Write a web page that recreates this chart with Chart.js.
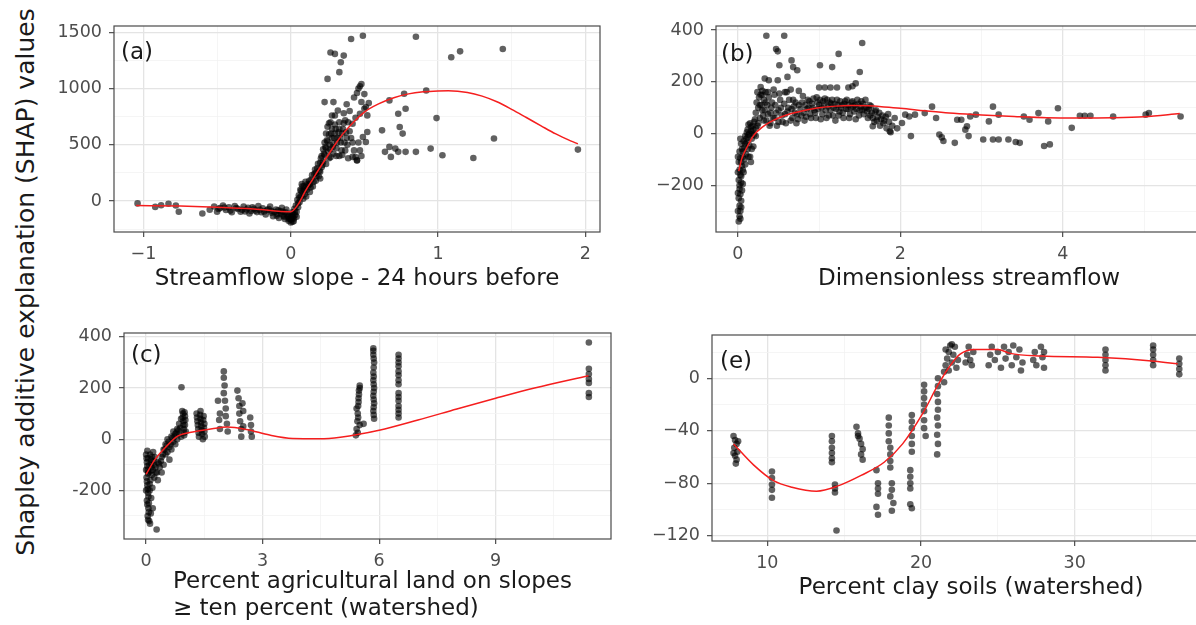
<!DOCTYPE html>
<html>
<head>
<meta charset="utf-8">
<script src="https://cdn.jsdelivr.net/npm/chart.js@4.4.0/dist/chart.umd.min.js"></script>
<style>
  html, body { margin: 0; padding: 0; background: #fff; }
  body { width: 1196px; height: 625px; overflow: hidden; position: relative; font-family: "DejaVu Sans", sans-serif; }
  canvas { position: absolute; }
  #ytitle {
    position: absolute; left: 25px; top: 282px;
    transform: translate(-50%, -50%) rotate(-90deg);
    white-space: nowrap; font-size: 25px; color: #1a1a1a;
  }
</style>
</head>
<body>
<div id="ytitle">Shapley additive explanation (SHAP) values</div>
<canvas id="pa" width="615" height="300" style="left:0;top:0;width:615px;height:300px"></canvas>
<canvas id="pb" width="640" height="300" style="left:600px;top:0;width:640px;height:300px"></canvas>
<canvas id="pc" width="630" height="320" style="left:0;top:305px;width:630px;height:320px"></canvas>
<canvas id="pe" width="640" height="320" style="left:598px;top:305px;width:640px;height:320px"></canvas>
<script>
// tick values (major ones get labels, minor ones only a light grid line)
const aXMajor = [-1, 0, 1, 2];          const aXMinor = [-0.5, 0.5, 1.5];
const aYMajor = [0, 500, 1000, 1500];   const aYMinor = [-250, 250, 750, 1250];
const bXMajor = [0, 2, 4];              const bXMinor = [1, 3, 5];
const bYMajor = [-200, 0, 200, 400];    const bYMinor = [-300, -100, 100, 300];
const cXMajor = [0, 3, 6, 9];           const cXMinor = [1.5, 4.5, 7.5, 10.5];
const cYMajor = [-200, 0, 200, 400];    const cYMinor = [-300, -100, 100, 300];
const eXMajor = [10, 20, 30];           const eXMinor = [15, 25, 35];
const eYMajor = [-120, -80, -40, 0];    const eYMinor = [-100, -60, -20, 20];

// (a) streamflow slope 24 h before
const aPoints = [
  [-1.04,-21],[-0.92,-52],[-0.88,-38],[-0.83,-24],[-0.78,-40],[-0.76,-95],[-0.6,-110],[-0.55,-78],
  [-0.52,-48],[-0.5,-95],[-0.48,-62],[-0.46,-40],[-0.44,-80],[-0.42,-55],[-0.4,-100],[-0.38,-45],
  [-0.36,-70],[-0.34,-95],[-0.32,-50],[-0.3,-75],[-0.28,-110],[-0.26,-55],[-0.24,-85],[-0.22,-45],
  [-0.2,-100],[-0.19,-65],[-0.17,-120],[-0.16,-80],[-0.14,-50],[-0.13,-105],[-0.12,-135],[-0.1,-75],
  [-0.09,-115],[-0.08,-150],[-0.07,-90],[-0.06,-60],[-0.05,-130],[-0.04,-160],[-0.035,-100],[-0.03,-75],
  [-0.02,-140],[-0.015,-175],[-0.01,-115],[-0.005,-155],[0,-190],[0,-135],[0.005,-165],[0.01,-100],
  [0.015,-145],[0.02,-180],[0.025,-70],[0.03,-125],[0.035,-40],[0.04,-95],[0.045,10],[0.05,-55],
  [0.055,50],[0.06,-10],[0.065,100],[0.07,40],[0.075,150],[0.08,80],[0.085,20],[0.09,130],
  [0.095,60],[0.1,170],[0.11,100],[0.12,140],[0.13,80],[0.14,190],[0.15,130],[0.16,240],
  [0.17,180],[0.18,290],[0.19,220],[0.2,340],[0.2,260],[0.21,400],[0.21,300],[0.22,460],
  [0.22,350],[0.23,520],[0.23,410],[0.24,600],[0.24,470],[0.25,660],[0.25,530],[0.26,380],
  [0.26,590],[0.27,700],[0.27,460],[0.28,560],[0.28,640],[0.29,420],[0.29,510],[0.3,600],
  [0.3,680],[0.31,470],[0.32,560],[0.33,640],[0.33,400],[0.34,520],[0.35,600],[0.36,690],
  [0.37,450],[0.38,560],[0.39,380],[0.4,620],[0.42,520],[0.44,390],[0.45,360],[0.47,450],
  [-0.49,-70],[-0.45,-58],[-0.41,-85],[-0.37,-62],[-0.33,-78],[-0.31,-92],[-0.29,-60],[-0.27,-88],
  [-0.25,-70],[-0.23,-98],[-0.21,-78],[-0.18,-92],[-0.15,-72],[-0.13,-88],[-0.11,-98],[-0.095,-130],
  [-0.085,-82],[-0.065,-112],[-0.055,-95],[-0.045,-140],[-0.025,-120],[-0.012,-160],[0,-160],[0.008,-140],
  [0.012,-185],[0.018,-120],[0.022,-155],[0.028,-95],[0.04,-140],[0.05,-20],[0.06,30],[0.07,90],
  [0.08,130],[0.09,95],[0.1,120],[0.105,40],[0.115,150],[0.125,180],[0.135,120],[0.145,230],
  [0.155,170],[0.165,280],[0.175,220],[0.185,330],[0.195,270],[0.205,380],[0.215,320],[0.225,420],
  [0.235,480],[0.245,540],[0.255,440],[0.265,500],[0.275,600],[0.285,480],[0.295,560],[0.305,640],
  [0.315,520],[0.325,610],[0.335,560],[0.345,450],[0.355,640],[0.365,520],[0.375,610],[0.385,500],
  [0.41,560],[0.43,450],[0.46,520],[0.48,400],[0.35,410],[0.31,400],[0.27,390],[0.24,330],
  [0.2,200],[0.17,250],[0.13,150],[0.3,760],[0.33,700],[0.36,780],[0.39,700],
  [0.41,1440],[0.49,1469],[0.85,1460],[0.27,1320],[0.3,1307],[0.36,1292],[0.34,1233],[0.33,1145],
  [0.25,1085],[1.09,1277],[1.15,1330],[1.44,1351],[0.92,982],[0.77,953],[0.67,894],[0.46,1000],
  [0.48,1040],[0.45,960],[0.43,920],[0.48,880],[0.23,879],[0.29,879],[0.32,805],[0.37,717],
  [0.42,687],[0.51,835],[0.47,776],[0.52,761],[0.78,820],[0.73,776],[0.99,737],[0.62,628],
  [0.74,658],[0.76,599],[0.52,614],[0.49,569],[0.51,525],[1.38,555],[0.67,481],[0.71,466],
  [0.73,437],[0.78,437],[0.85,437],[0.64,437],[0.68,392],[0.95,466],[1.03,407],[1.24,383],
  [1.95,457],[0.42,392],[0.45,363],[0.5,820],[0.44,740],[0.4,800],[0.38,860],[0.26,690],
  [0.28,760],[0.53,870],[0.5,950],[0.47,1020]
];
const aCurve = [
  [-1.05,-40],[-0.75,-45],[-0.5,-55],[-0.25,-70],[0,-95],[0.05,-30],[0.1,90],[0.15,195],
  [0.2,300],[0.25,400],[0.3,500],[0.35,590],[0.4,665],[0.5,790],[0.6,865],[0.7,918],
  [0.8,952],[0.9,970],[1.0,978],[1.07,980],[1.2,965],[1.3,932],[1.4,882],[1.5,815],
  [1.6,742],[1.7,668],[1.8,596],[1.9,535],[1.95,508]
];

// (b) dimensionless streamflow
const bPoints = [
  [0.01,-340],[0.02,-320],[0.03,-300],[0.02,-280],[0.04,-260],[0.01,-250],[0.03,-235],[0.05,-220],
  [0.02,-200],[0.06,-195],[0.01,-180],[0.04,-165],[0.07,-150],[0.02,-140],[0.05,-125],[0.09,-120],
  [0.01,-110],[0.03,-95],[0.06,-90],[0.1,-80],[0.02,-70],[0.05,-60],[0.08,-55],[0.12,-60],
  [0.04,-40],[0.07,-30],[0.11,-35],[0.15,-90],[0.14,-45],[0.09,-10],[0.13,-5],[0.17,-20],
  [0.19,-50],[0.12,15],[0.16,10],[0.2,-5],[0.18,30],[0.22,20],[0.15,40],[0.21,55],
  [0,-300],[0.03,-330],[0.04,-285],[0,-230],[0.02,-215],[0.04,-190],[0.03,-160],[0,-150],
  [0.06,-140],[0.04,-110],[0.08,-100],[0,-90],[0.06,-70],[0.09,-40],[0.03,-20],[0.1,-20],
  [0.12,-15],[0.14,0],[0.16,25],[0.18,0],[0.11,5],[0.13,35],[0.2,45],[0.19,15],
  [0.22,-10],[0.24,30],[0.17,-60],[0.13,-90],[0.16,-110],
  [0.22,80],[0.23,120],[0.24,160],[0.25,100],[0.26,140],[0.27,60],[0.28,180],[0.29,110],
  [0.3,150],[0.31,70],[0.32,130],[0.33,90],[0.34,160],[0.35,50],[0.36,110],[0.38,140],
  [0.4,40],[0.4,80],[0.42,120],[0.45,60],[0.45,150],[0.48,30],[0.5,90],[0.52,130],
  [0.55,45],[0.58,75],[0.6,160],[0.62,100],[0.65,50],[0.68,130],[0.7,80],[0.72,40],
  [0.75,110],[0.78,70],[0.8,145],[0.82,50],[0.85,95],[0.88,125],[0.9,60],[0.92,100],
  [0.95,80],[0.97,140],[1.0,110],[1.02,55],[1.05,125],[1.08,90],[1.1,130],[1.12,70],
  [1.15,115],[1.18,100],[1.2,50],[1.22,130],[1.25,85],[1.28,110],[1.3,60],[1.32,125],
  [1.35,95],[1.38,75],[1.4,120],[1.42,105],[1.45,55],[1.48,115],[1.5,90],[1.52,125],
  [1.55,75],[1.58,100],[1.6,60],[1.62,110],[1.65,80],[1.68,45],[1.7,90],[1.72,65],
  [1.75,30],[1.78,70],[1.8,50],[1.83,20],[1.85,75],[1.88,5],
  [0.25,40],[0.27,110],[0.3,90],[0.32,50],[0.34,120],[0.37,75],[0.39,30],[0.41,100],
  [0.43,60],[0.46,110],[0.47,80],[0.5,45],[0.53,100],[0.54,70],[0.57,115],[0.59,40],
  [0.61,85],[0.63,130],[0.66,95],[0.67,60],[0.69,105],[0.71,120],[0.73,75],[0.74,55],
  [0.77,95],[0.79,120],[0.81,80],[0.83,110],[0.84,65],[0.86,130],[0.87,100],[0.89,75],
  [0.91,115],[0.93,135],[0.94,90],[0.96,60],[0.98,120],[0.99,95],[1.01,130],[1.03,100],
  [1.04,75],[1.06,110],[1.07,135],[1.09,60],[1.11,105],[1.13,120],[1.14,90],[1.16,130],
  [1.17,70],[1.19,115],[1.21,95],[1.23,110],[1.24,70],[1.26,125],[1.27,100],[1.29,80],
  [1.31,115],[1.33,95],[1.34,130],[1.36,110],[1.37,60],[1.39,100],[1.41,125],[1.43,85],
  [1.44,110],[1.46,95],[1.47,130],[1.49,70],[1.51,105],[1.53,90],[1.54,115],[1.56,100],
  [1.57,130],[1.59,85],[1.61,95],[1.63,70],[1.64,105],[1.66,60],[1.69,85],[1.71,50],
  [1.74,80],[1.76,55],[1.79,40],[1.82,65],[1.86,45],[1.9,30],[1.93,60],[1.96,20],
  [0.35,378],[0.57,378],[0.47,327],[0.49,318],[0.51,264],[0.33,213],[0.38,206],[0.49,206],
  [0.66,283],[0.68,257],[0.73,245],[0.61,219],[1.01,264],[1.16,257],[1.24,308],[1.53,350],
  [1.5,238],[1.0,178],[1.07,178],[1.14,178],[1.22,178],[1.36,178],[1.41,183],[1.45,194],
  [0.28,150],[0.3,165],[0.37,160],[0.44,170],[0.51,155],[0.58,160],[0.65,170],[0.75,165],
  [1.66,28],[1.87,9],[2.02,41],[2.11,66],[2.13,-10],[2.06,73],[2.18,73],[2.3,79],
  [2.39,104],[2.44,60],[2.48,-4],[2.51,-15],[2.53,-29],[2.67,-36],[2.7,53],[2.75,53],
  [2.8,15],[2.84,-10],[2.82,28],[2.86,66],[2.93,73],[3.02,-23],[3.14,-23],[3.21,-23],
  [3.14,104],[3.09,47],[3.21,73],[3.33,-23],[3.42,-33],[3.47,-36],[3.52,66],[3.59,53],
  [3.7,79],[3.77,-48],[3.84,-42],[3.82,47],[3.94,98],[4.11,22],[4.21,69],[4.27,69],
  [4.34,69],[4.62,66],[5.02,73],[5.06,79],[5.45,66]
];
const bCurve = [
  [0.01,-145],[0.05,-95],[0.1,-60],[0.15,-30],[0.2,-5],[0.3,25],[0.4,45],[0.5,60],
  [0.6,72],[0.8,88],[1.0,100],[1.2,106],[1.4,108],[1.6,107],[1.8,103],[2.0,98],
  [2.3,88],[2.6,79],[3.0,72],[3.4,66],[3.8,61],[4.2,60],[4.6,61],[5.0,65],[5.44,77]
];

// (c) agricultural land on slopes >= 10 %
const cPoints = [
  [0,-60],[0.02,-90],[0.04,-120],[0.01,-150],[0.03,-180],[0.05,-210],[0.02,-240],[0.06,-270],
  [0.04,-300],[0.08,-320],[0.1,-330],[0.07,-250],[0.09,-200],[0.11,-160],[0.06,-130],[0.08,-100],
  [0.12,-80],[0.14,-110],[0.1,-60],[0.15,-140],[0.16,-190],[0.13,-230],[0.17,-270],[0.2,-100],
  [0.22,-70],[0.18,-50],[0.27,-353],[0.03,-45],[0,-200],[0,-120],[0.05,-75],[0.12,-290],
  [0.01,-75],[0.03,-105],[0.05,-135],[0.02,-165],[0.04,-195],[0.06,-225],[0.03,-255],[0.07,-285],
  [0.05,-315],[0.09,-175],[0.11,-125],[0.13,-95],[0.15,-70],[0.17,-120],[0.19,-85],[0.21,-150],
  [0.24,-110],[0.28,-130],[0.33,-95],[0.38,-85],[0.43,-60],[0.48,-40],[0.53,-25],[0.58,-10],
  [0.63,-20],[0.68,5],[0.73,10],[0.78,25],[0.83,35],[0.88,45],
  [0.25,-130],[0.3,-160],[0.3,-90],[0.35,-110],[0.4,-70],[0.4,-130],[0.45,-40],[0.45,-100],
  [0.5,-20],[0.5,-60],[0.55,-50],[0.55,0],[0.6,-30],[0.6,-80],[0.65,10],[0.65,-40],
  [0.7,-10],[0.7,30],[0.75,20],[0.75,-20],[0.8,40],[0.8,0],[0.85,60],[0.85,20],
  [0.9,80],[0.9,10],[0.91,203],
  [0.93,110],[0.95,100],[0.96,70],[0.97,40],[0.98,15],[1.0,90],[1.0,55],[1.02,30],
  [0.94,85],[0.96,55],[0.98,25],[0.99,105],[1.01,75],
  [1.3,100],[1.32,70],[1.34,40],[1.36,10],[1.4,110],[1.4,80],[1.42,50],[1.44,20],
  [1.46,0],[1.48,90],[1.5,60],[1.5,30],[1.31,85],[1.33,55],[1.35,25],[1.39,95],
  [1.41,65],[1.43,35],[1.47,75],[1.49,45],[1.51,10],
  [1.85,150],[1.9,100],[1.88,75],[1.9,40],[2.0,265],[2.0,240],[2.02,210],[2.0,180],
  [2.05,120],[2.05,90],[2.08,60],[2.1,30],[2.03,150],
  [2.35,190],[2.38,160],[2.4,130],[2.4,100],[2.42,70],[2.45,40],[2.45,10],[2.48,140],
  [2.5,110],[2.5,50],[2.68,85],[2.7,55],[2.7,30],[2.72,10],
  [5.4,15],[5.42,40],[5.44,70],[5.45,100],[5.46,130],[5.47,160],[5.48,190],[5.5,210],
  [5.5,55],[5.6,60],[5.45,25],[5.46,85],[5.47,145],[5.48,175],[5.42,120],[5.5,200],
  [5.85,355],[5.85,330],[5.87,300],[5.85,260],[5.85,230],[5.87,200],[5.85,170],[5.87,140],
  [5.85,110],[5.87,80],[5.85,345],[5.86,315],[5.86,280],[5.86,245],[5.86,215],[5.86,185],
  [5.86,155],[5.86,125],[5.86,95],
  [6.5,330],[6.5,300],[6.5,265],[6.5,230],[6.5,180],[6.5,150],[6.5,115],[6.5,85],
  [6.5,315],[6.5,285],[6.5,250],[6.5,215],[6.5,165],[6.5,130],[6.5,100],
  [11.4,378],[11.4,275],[11.4,255],[11.4,235],[11.4,220],[11.4,180],[11.4,165]
];
const cCurve = [
  [0,-137],[0.22,-81],[0.51,-30],[0.81,12],[1.2,28],[1.7,41],[2.09,48],[2.59,38],
  [3.18,16],[3.77,3],[4.46,2],[5.0,8],[6.0,35],[7.0,75],[8.0,118],[9.0,160],
  [10.0,200],[11.39,248]
];

// (e) clay soils
const ePoints = [
  [7.8,-44],[7.9,-47],[8.0,-50],[7.85,-53],[8.05,-56],[7.9,-59],[8.0,-62],[7.95,-65],
  [8.1,-48],[7.8,-57],
  [10.3,-71],[10.3,-76],[10.3,-81],[10.3,-85],[10.3,-91],
  [14.2,-44],[14.2,-48],[14.2,-53],[14.2,-57],[14.2,-61],[14.2,-64],[14.4,-81],[14.4,-84],
  [14.4,-87],[14.5,-116],
  [15.8,-37],[15.9,-42],[16.0,-46],[16.1,-50],[16.2,-54],[16.1,-58],[16.2,-62],[15.9,-44],
  [17.1,-70],[17.2,-80],[17.2,-84],[17.2,-88],[17.1,-98],[17.2,-104],
  [17.9,-30],[17.9,-36],[17.9,-42],[17.9,-48],[18.0,-53],[18.0,-58],[18.0,-63],[18.0,-68],
  [18.1,-80],[18.1,-85],[18.0,-90],[18.2,-95],[18.1,-101],
  [19.4,-28],[19.4,-33],[19.4,-38],[19.4,-44],[19.4,-50],[19.4,-56],[19.3,-70],[19.3,-75],
  [19.3,-80],[19.3,-84],[19.3,-96],[19.4,-99],
  [20.2,-5],[20.2,-10],[20.2,-15],[20.2,-20],[20.2,-25],[20.2,-32],[20.2,-38],[20.3,-44],
  [21.1,0],[21.1,-6],[21.05,-12],[21.1,-18],[21.1,-24],[21.05,-30],[21.1,-36],[21.05,-43],
  [21.1,-50],[21.05,-58],
  [21.5,-3],[21.5,5],[21.6,10],[21.7,15],[21.8,20],[21.9,25],[22.0,12],[22.1,18],
  [22.2,24],[22.3,8],[22.4,14],[21.6,22],[21.8,6],[22.0,26],
  [22.9,12],[23.0,18],[23.1,24],[23.2,14],[23.4,20],[23.3,10],
  [24.4,10],[24.5,18],[24.6,24],[24.8,14],[25.0,20],[25.2,8],[25.4,24],[25.5,15],
  [25.7,20],[25.9,10],[26.0,25],[26.2,16],[26.4,22],[26.5,6],[26.6,12],
  [27.3,14],[27.4,20],[27.5,10],[27.8,24],[27.9,16],[28.0,8],[28.0,20],
  [32.0,6],[32.0,10],[32.0,14],[32.0,18],[32.0,22],
  [35.1,10],[35.1,14],[35.1,18],[35.1,22],[35.1,25],
  [36.8,3],[36.8,7],[36.8,11],[36.8,15]
];
const eCurve = [
  [7.8,-50],[9.1,-66],[10.4,-78],[11.6,-83],[13.2,-86],[14.6,-82],[16.1,-74],[17.6,-64],
  [18.8,-50],[20.1,-27],[21.06,-6],[21.8,8],[22.5,18],[23.5,22],[25.0,22],[25.8,19],
  [27.8,17],[31.5,16],[35.2,13],[36.7,11]
];

const FONT = '"DejaVu Sans", sans-serif';

function fmt(v, hyphen) {
  if (v < 0) return (hyphen ? '-' : '\u2212') + Math.abs(v);
  return String(v);
}

// frame, panel letter and (optional) multi-line left-aligned x title
const panelFrame = {
  id: 'panelFrame',
  afterDraw(chart, args, opts) {
    const {ctx, chartArea: a} = chart;
    ctx.save();
    ctx.strokeStyle = '#4a4a4a';
    ctx.lineWidth = 1.2;
    ctx.strokeRect(a.left, a.top, a.right - a.left, a.bottom - a.top);
    ctx.fillStyle = '#1a1a1a';
    ctx.font = '23px ' + FONT;
    ctx.textBaseline = 'alphabetic';
    ctx.textAlign = 'left';
    ctx.fillText(opts.letter, a.left + opts.dx, a.top + opts.dy);
    if (opts.lines) {
      const w = Math.max(...opts.lines.map(l => ctx.measureText(l).width));
      const x0 = (a.left + a.right) / 2 - w / 2 + (opts.shift || 0);
      opts.lines.forEach((l, i) => ctx.fillText(l, x0, opts.baselines[i]));
    }
    ctx.restore();
  }
};

function axis(ax, hyphen) {
  const major = (v) => ax.major.includes(v);
  return {
    type: 'linear',
    min: ax.min,
    max: ax.max,
    afterBuildTicks: (s) => {
      s.ticks = ax.major.concat(ax.minor)
        .filter(v => v >= ax.min && v <= ax.max)
        .sort((p, q) => p - q)
        .map(v => ({value: v}));
    },
    ticks: {
      autoSkip: false,
      maxRotation: 0,
      padding: 7,
      color: '#4d4d4d',
      font: {family: FONT, size: 17.5},
      callback: (v) => major(v) ? fmt(v, hyphen) : ''
    },
    grid: {
      color: (c) => c.tick && major(c.tick.value) ? '#e4e4e4' : '#f2f2f2',
      lineWidth: (c) => c.tick && major(c.tick.value) ? 1.3 : 0.8,
      tickColor: (c) => c.tick && major(c.tick.value) ? '#4d4d4d' : 'rgba(0,0,0,0)',
      tickWidth: 1.2,
      tickLength: 5
    },
    border: {display: false}
  };
}

function makePanel(id, p) {
  const x = axis(p.x, p.hyphen);
  const y = axis(p.y, p.hyphen);
  x.afterFit = (s) => { s.height = p.xHeight; s.paddingLeft = 0; s.paddingRight = 0; };
  y.afterFit = (s) => { s.width = p.yWidth; s.paddingTop = 0; s.paddingBottom = 0; };
  if (p.xTitle) {
    x.title = {
      display: true,
      text: p.xTitle,
      color: '#1a1a1a',
      font: {family: FONT, size: 23},
      padding: {top: 0, bottom: p.titlePad}
    };
  }
  new Chart(document.getElementById(id), {
    type: 'scatter',
    data: {
      datasets: [
        {
          data: p.curve.map(([x, y]) => ({x, y})),
          showLine: true,
          pointRadius: 0,
          borderColor: 'rgb(245,30,30)',
          borderWidth: 1.5,
          cubicInterpolationMode: 'monotone',
          order: 0
        },
        {
          data: p.points.map(([x, y]) => ({x, y})),
          pointRadius: 3.3,
          backgroundColor: 'rgba(0,0,0,0.62)',
          borderWidth: 0,
          order: 1
        }
      ]
    },
    options: {
      responsive: false,
      animation: false,
      events: [],
      layout: {padding: p.padding},
      plugins: {
        legend: {display: false},
        tooltip: {enabled: false},
        panelFrame: p.frame
      },
      scales: {x, y}
    },
    plugins: [panelFrame]
  });
}

makePanel('pa', {
  points: aPoints, curve: aCurve,
  x: {min: -1.2, max: 2.1, major: aXMajor, minor: aXMinor},
  y: {min: -275, max: 1555, major: aYMajor, minor: aYMinor},
  yWidth: 114, xHeight: 68, titlePad: 7,
  padding: {top: 26, right: 15, left: 0, bottom: 0},
  xTitle: 'Streamflow slope - 24 hours before',
  frame: {letter: '(a)', dx: 7, dy: 33}
});

makePanel('pb', {
  points: bPoints, curve: bCurve,
  x: {min: -0.27, max: 5.96, major: bXMajor, minor: bXMinor},
  y: {min: -381, max: 416, major: bYMajor, minor: bYMinor},
  yWidth: 116, xHeight: 68, titlePad: 7,
  padding: {top: 26, right: 18, left: 0, bottom: 0},
  xTitle: 'Dimensionless streamflow',
  frame: {letter: '(b)', dx: 5, dy: 35}
});

makePanel('pc', {
  points: cPoints, curve: cCurve, hyphen: true,
  x: {min: -0.57, max: 11.97, major: cXMajor, minor: cXMinor},
  y: {min: -390, max: 415, major: cYMajor, minor: cYMinor},
  yWidth: 124, xHeight: 86,
  padding: {top: 28, right: 19, left: 0, bottom: 0},
  frame: {
    letter: '(c)', dx: 7, dy: 29, shift: 5,
    lines: ['Percent agricultural land on slopes', '\u2265 ten percent (watershed)'],
    baselines: [283, 310]
  }
});

makePanel('pe', {
  points: ePoints, curve: eCurve,
  x: {min: 6.4, max: 40.1, major: eXMajor, minor: eXMinor},
  y: {min: -124, max: 33, major: eYMajor, minor: eYMinor},
  yWidth: 114, xHeight: 84, titlePad: 23,
  padding: {top: 30, right: 8, left: 0, bottom: 0},
  xTitle: 'Percent clay soils (watershed)',
  frame: {letter: '(e)', dx: 8, dy: 33}
});
</script>
</body>
</html>
